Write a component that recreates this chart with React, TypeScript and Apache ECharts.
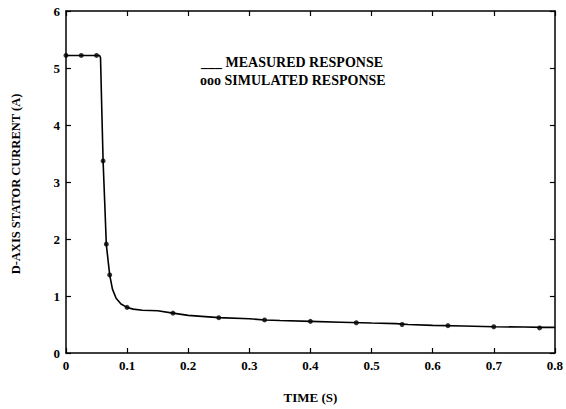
import React, { useEffect, useRef } from "react";
import * as echarts from "echarts";

const measuredT = [0, 0.02, 0.04, 0.055, 0.0565, 0.0585, 0.0607, 0.0635, 0.066, 0.0715, 0.076, 0.082, 0.09, 0.1, 0.11, 0.125, 0.15, 0.175, 0.2, 0.25, 0.3, 0.325, 0.35, 0.4, 0.45, 0.5, 0.54, 0.56, 0.6, 0.65, 0.7, 0.75, 0.78, 0.8];
const measuredI = [5.22, 5.22, 5.22, 5.22, 5.18, 4.3, 3.37, 2.6, 1.9, 1.37, 1.12, 0.96, 0.86, 0.8, 0.77, 0.75, 0.74, 0.7, 0.66, 0.62, 0.6, 0.58, 0.57, 0.555, 0.54, 0.525, 0.515, 0.5, 0.485, 0.475, 0.46, 0.455, 0.45, 0.45];

const simulatedT = [0, 0.025, 0.05, 0.0607, 0.066, 0.0715, 0.1, 0.175, 0.25, 0.325, 0.4, 0.475, 0.55, 0.625, 0.7, 0.775];
const simulatedI = [5.22, 5.22, 5.22, 3.37, 1.91, 1.37, 0.8, 0.7, 0.62, 0.58, 0.555, 0.53, 0.5, 0.48, 0.46, 0.44];

const xTicks = ["0", "0.1", "0.2", "0.3", "0.4", "0.5", "0.6", "0.7", "0.8"];
const yTicks = ["0", "1", "2", "3", "4", "5", "6"];

const font = "'Liberation Serif', 'DejaVu Serif', serif";

export default function App() {
  const ref = useRef<HTMLDivElement>(null);
  useEffect(() => {
    document.body.style.margin = "0";
    const chart = echarts.init(ref.current!, null, { renderer: "svg" });
    const axisLine = { show: true, onZero: false, lineStyle: { color: "#000", width: 1.5 } };
    const tickStyle = { show: true, inside: true, length: 5, lineStyle: { color: "#000", width: 1.2 } };
    chart.setOption({
      animation: false,
      backgroundColor: "#fff",
      grid: { left: 66, right: 8, top: 11, bottom: 49 },
      xAxis: [
        {
          type: "value", min: 0, max: 0.8, interval: 0.1,
          axisLine, axisTick: tickStyle, splitLine: { show: false },
          axisLabel: {
            color: "#000", fontFamily: font, fontWeight: "bold", fontSize: 13, margin: 6,
            formatter: (v: number) => xTicks[Math.round(v * 10)] ?? "",
          },
          name: "TIME (S)", nameLocation: "middle", nameGap: 38,
          nameTextStyle: { color: "#000", fontFamily: font, fontSize: 13, fontWeight: "bold" },
        },
        {
          type: "value", min: 0, max: 0.8, interval: 0.1, position: "top",
          axisLine, axisTick: tickStyle, axisLabel: { show: false }, splitLine: { show: false },
        },
      ],
      yAxis: [
        {
          type: "value", min: 0, max: 6, interval: 1,
          axisLine, axisTick: tickStyle, splitLine: { show: false },
          axisLabel: {
            color: "#000", fontFamily: font, fontWeight: "bold", fontSize: 13, margin: 6,
            formatter: (v: number) => yTicks[Math.round(v)] ?? "",
          },
        },
        {
          type: "value", min: 0, max: 6, interval: 1, position: "right",
          axisLine, axisTick: tickStyle, axisLabel: { show: false }, splitLine: { show: false },
        },
      ],
      graphic: [
        {
          type: "text", x: 16, y: 184, rotation: Math.PI / 2,
          style: { text: "D-AXIS STATOR CURRENT (A)", fill: "#000", font: `bold 12.5px ${font}`, align: "center", verticalAlign: "middle" },
        },
        { type: "text", x: 201, y: 62, style: { text: "___ MEASURED RESPONSE", fill: "#000", font: `bold 14px ${font}`, verticalAlign: "middle" } },
        { type: "text", x: 200, y: 80, style: { text: "ooo SIMULATED RESPONSE", fill: "#000", font: `bold 14px ${font}`, verticalAlign: "middle" } },
      ],
      series: [
        {
          type: "line",
          data: measuredT.map((t, i) => [t, measuredI[i]]),
          showSymbol: false, smooth: false,
          lineStyle: { color: "#000", width: 1.6 },
        },
        {
          type: "scatter",
          data: simulatedT.map((t, i) => [t, simulatedI[i]]),
          symbol: "circle", symbolSize: 5,
          itemStyle: { color: "#000" },
        },
      ],
    });
    return () => chart.dispose();
  }, []);
  return <div ref={ref} style={{ width: 566, height: 409 }} />;
}
